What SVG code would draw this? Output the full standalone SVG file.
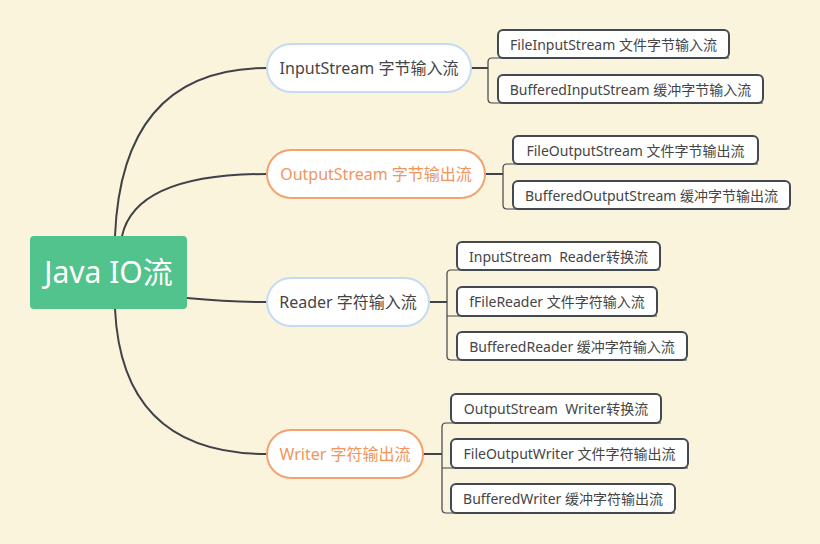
<svg xmlns="http://www.w3.org/2000/svg" width="820" height="544" viewBox="0 0 820 544">
<style>
.bg{fill:#fbf4dc}
.edge{fill:none;stroke:#3f4349;stroke-width:2}
.br{fill:none;stroke:#3f4349;stroke-width:1.2}
.leaf rect{fill:#fff;stroke:#424952;stroke-width:2}
.leaf text{font-family:"Noto Sans","Noto Sans CJK SC",sans-serif;font-size:14px;fill:#454545;text-anchor:middle;dominant-baseline:central}
.l1 text{font-family:"Noto Sans","Noto Sans CJK SC",sans-serif;font-size:16px;text-anchor:middle;dominant-baseline:central}
.blue rect{fill:#fff;stroke:#c3dbf4;stroke-width:2}
.blue text{fill:#454545}
.orange rect{fill:#fff;stroke:#f3a26f;stroke-width:2}
.orange text{fill:#f0955c}
</style>
<rect class="bg" x="0" y="0" width="820" height="544"/>
<g id="connectors">
<path class="edge" d="M115,236 Q122,68 267,68"/>
<path class="edge" d="M122,236 Q136,174 267,174"/>
<path class="edge" d="M187,298 Q230,302 267,302"/>
<path class="edge" d="M115,309 Q122,454 267,454"/>
<path class="edge" d="M471,68 H488"/>
<path class="br" d="M729,58 H492 Q488,58 488,62 V99 Q488,103 492,103 H763"/>
<path class="edge" d="M485,174 H503"/>
<path class="br" d="M758,164 H507 Q503,164 503,168 V205 Q503,209 507,209 H790"/>
<path class="edge" d="M429,302 H447"/>
<path class="br" d="M660,270 H451 Q447,270 447,274 V356 Q447,360 451,360 H687 M447,316 H657"/>
<path class="edge" d="M423,454 H442"/>
<path class="br" d="M661,423 H446 Q442,423 442,427 V509 Q442,513 446,513 H675 M442,468 H688"/>
</g>
<g id="root">
<rect x="30" y="236" width="157" height="73" rx="4" fill="#52c38c"/>
<text x="108.5" y="283" font-family="'Noto Sans','Noto Sans CJK SC',sans-serif" font-size="30" fill="#fff" text-anchor="middle">Java IO流</text>
</g>
<g id="n-inputstream" class="l1 blue">
<rect x="267" y="44" width="204" height="48" rx="24"/>
<text x="369" y="68">InputStream 字节输入流</text>
</g>
<g id="n-outputstream" class="l1 orange">
<rect x="267" y="150" width="218" height="48" rx="24"/>
<text x="376" y="174">OutputStream 字节输出流</text>
</g>
<g id="n-reader" class="l1 blue">
<rect x="267" y="278" width="162" height="48" rx="24"/>
<text x="348" y="302">Reader 字符输入流</text>
</g>
<g id="n-writer" class="l1 orange">
<rect x="267" y="430" width="156" height="48" rx="24"/>
<text x="345" y="454">Writer 字符输出流</text>
</g>
<g id="n-fileinputstream" class="leaf">
<rect x="498" y="30" width="231" height="28" rx="5"/>
<text x="613.5" y="44">FileInputStream 文件字节输入流</text>
</g>
<g id="n-bufferedinputstream" class="leaf">
<rect x="498" y="75" width="265" height="28" rx="5"/>
<text x="630.5" y="89">BufferedInputStream 缓冲字节输入流</text>
</g>
<g id="n-fileoutputstream" class="leaf">
<rect x="513" y="136" width="245" height="28" rx="5"/>
<text x="635.5" y="150">FileOutputStream 文件字节输出流</text>
</g>
<g id="n-bufferedoutputstream" class="leaf">
<rect x="513" y="181" width="277" height="28" rx="5"/>
<text x="651.5" y="195">BufferedOutputStream 缓冲字节输出流</text>
</g>
<g id="n-inputstreamreader" class="leaf">
<rect x="457" y="242" width="203" height="28" rx="5"/>
<text x="558.5" y="256" xml:space="preserve">InputStream  Reader转换流</text>
</g>
<g id="n-filereader" class="leaf">
<rect x="457" y="287" width="200" height="29" rx="5"/>
<text x="557" y="301.5">fFileReader 文件字符输入流</text>
</g>
<g id="n-bufferedreader" class="leaf">
<rect x="457" y="332" width="230" height="28" rx="5"/>
<text x="572" y="346">BufferedReader 缓冲字符输入流</text>
</g>
<g id="n-outputstreamwriter" class="leaf">
<rect x="451" y="394" width="210" height="29" rx="5"/>
<text x="556" y="408.5" xml:space="preserve">OutputStream  Writer转换流</text>
</g>
<g id="n-fileoutputwriter" class="leaf">
<rect x="451" y="439" width="237" height="29" rx="5"/>
<text x="569.5" y="453.5">FileOutputWriter 文件字符输出流</text>
</g>
<g id="n-bufferedwriter" class="leaf">
<rect x="451" y="484" width="224" height="29" rx="5"/>
<text x="563" y="498.5">BufferedWriter 缓冲字符输出流</text>
</g>
</svg>
